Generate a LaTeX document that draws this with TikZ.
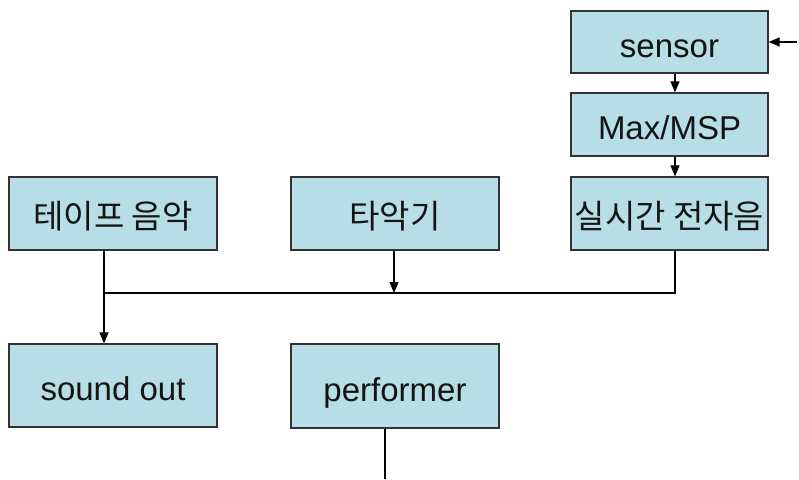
\documentclass[tikz,border=0pt]{standalone}
\usepackage{fontspec}
\setmainfont{Liberation Sans}
\newfontfamily\krfont{Noto Sans CJK KR}
\usetikzlibrary{arrows.meta}

\definecolor{boxfill}{RGB}{183,222,230}
\definecolor{boxline}{RGB}{50,50,50}

\begin{document}
\begin{tikzpicture}[x=1pt,y=-1pt,
        blok/.style={draw=boxline, fill=boxfill, line width=1.3pt, inner sep=0pt,
            minimum width=197pt, text=black!92,
            font=\fontsize{33}{39}\selectfont, text height=30pt, text depth=0pt},
        pijl/.style={line width=1.2pt, -{Triangle[length=11pt,width=9pt]}}]
    \useasboundingbox (0,0) rectangle (799,479);

    % right column: sensor chain
    \node[blok, minimum height=62pt] (sensor) at (669.5,42) {sensor};
    \node[blok, minimum height=63pt] (maxmsp) at (669.5,124.5) {Max/MSP};
    \node[blok, minimum height=73pt] (realtime) at (669.5,213.5) {\krfont 실시간 전자음};

    % sources and outputs
    \node[blok, minimum width=208pt, minimum height=73pt] (tape) at (113,213.5) {\krfont 테이프 음악};
    \node[blok, minimum width=208pt, minimum height=73pt] (perc) at (395,213.5) {\krfont 타악기};
    \node[blok, minimum width=208pt, minimum height=83pt] (sndout) at (113,385.5) {sound out};
    \node[blok, minimum width=208pt, minimum height=84pt] (performer) at (395,386) {performer};

    \coordinate (input) at (797,42);
    \coordinate (col) at (675,0);
    \coordinate (tapecol) at (104,0);
    \coordinate (perccol) at (394,0);
    \coordinate (bus) at (0,293);
    \coordinate (stage) at (385,479);

    \draw[pijl] (input) -- (sensor);
    \draw[pijl] (sensor.south -| col) -- (maxmsp.north -| col);
    \draw[pijl] (maxmsp.south -| col) -- (realtime.north -| col);

    \draw[line width=1.2pt] (realtime.south -| col) |- (tapecol |- bus);
    \draw[pijl] (perc.south -| perccol) -- (perccol |- bus);
    \draw[pijl] (tape.south -| tapecol) -- (sndout.north -| tapecol);
    \draw[line width=1.2pt] (performer.south -| stage) -- (stage);
\end{tikzpicture}
\end{document}
